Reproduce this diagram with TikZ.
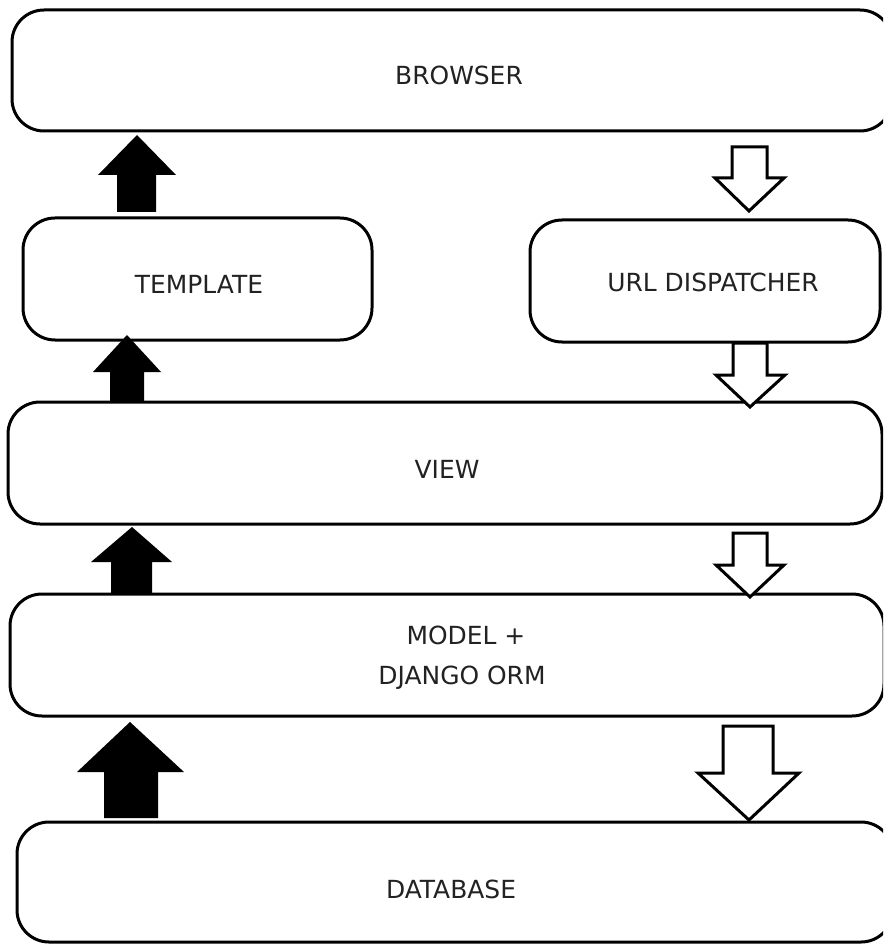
\documentclass[tikz,border=0pt]{standalone}
\usepackage{fontspec}
\setmainfont{DejaVu Sans}
\definecolor{txt}{HTML}{222222}
\begin{document}
\begin{tikzpicture}[x=0.75pt,y=-0.75pt,
  layer/.style={draw=black, line width=2.25pt, rounded corners=24pt, fill=white, inner sep=0pt, outer sep=0pt},
  lbl/.style={text=txt, font=\fontsize{18.7pt}{22pt}\selectfont, inner sep=0pt, anchor=center},
  uparrow/.style={fill=black, draw=none},
  downarrow/.style={fill=white, draw=black, line width=2.25pt, miter limit=10, line join=miter}]
\useasboundingbox (0,0) rectangle (883,944);
\clip (0,0) rectangle (883,944);
% boxes
\node[layer, minimum width=660pt, minimum height=90.75pt] (browser) at (452,70.5) {};
\node[layer, minimum width=261.75pt, minimum height=91.5pt] (template) at (197.5,279) {};
\node[layer, minimum width=262.5pt, minimum height=91.5pt] (url) at (705,281) {};
\node[layer, minimum width=655.5pt, minimum height=91.5pt] (view) at (445,463) {};
\node[layer, minimum width=655.5pt, minimum height=91.5pt] (model) at (447,655) {};
\node[layer, minimum width=657pt, minimum height=90pt] (database) at (455,882) {};
% labels
\node[lbl] (tbrowser) at (459,75) {BROWSER};
\node[lbl] (ttemplate) at (199,284) {TEMPLATE};
\node[lbl] (turl) at (713,282) {URL DISPATCHER};
\node[lbl] (tview) at (447,469) {VIEW};
\node[lbl] (tmodel1) at (466,635) {MODEL +};
\node[lbl] (tmodel2) at (462,678) {DJANGO ORM};
\node[lbl] (tdatabase) at (451,889) {DATABASE};
% filled up arrows
\fill[uparrow] (117,212) -- (117,175) -- (98,175) -- (137,135) -- (176,175) -- (156,175) -- (156,212) -- cycle;
\fill[uparrow] (110,402) -- (110,372) -- (93,372) -- (127,335) -- (161,372) -- (144,372) -- (144,402) -- cycle;
\fill[uparrow] (111,594) -- (111,562) -- (91,562) -- (132,527) -- (172,562) -- (152,562) -- (152,594) -- cycle;
\fill[uparrow] (104,818) -- (104,772) -- (77,772) -- (130,722) -- (184,772) -- (158,772) -- (158,818) -- cycle;
% hollow down arrows
\draw[downarrow] (732,147) -- (767,147) -- (767,178) -- (784,178) -- (749,211) -- (715,178) -- (732,178) -- cycle;
\draw[downarrow] (733,343) -- (767,343) -- (767,375) -- (785,375) -- (750,407) -- (716,375) -- (733,375) -- cycle;
\draw[downarrow] (733,533) -- (767,533) -- (767,565) -- (784,565) -- (750,597) -- (716,565) -- (733,565) -- cycle;
\draw[downarrow] (723,726) -- (773,726) -- (773,773) -- (799,773) -- (749,820) -- (698,773) -- (723,773) -- cycle;
\end{tikzpicture}
\end{document}
